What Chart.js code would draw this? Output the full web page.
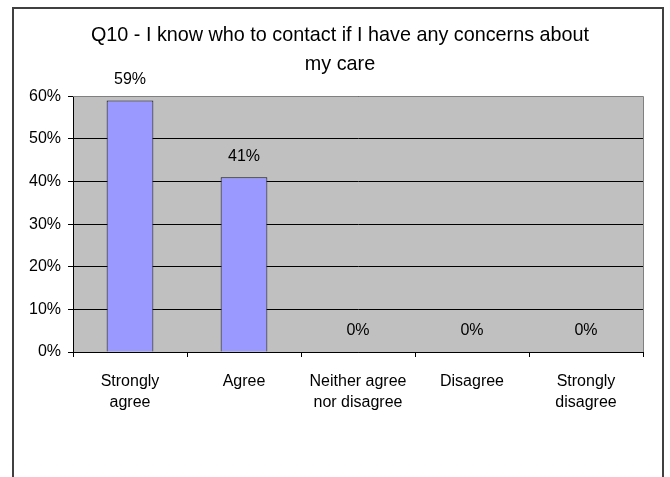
<!DOCTYPE html>
<html>
<head>
<meta charset="utf-8">
<script src="https://cdn.jsdelivr.net/npm/chart.js@4.4.1/dist/chart.umd.min.js"></script>
<style>
  html, body { margin: 0; padding: 0; background: #ffffff; }
  #wrap { width: 670px; height: 477px; position: relative; }
</style>
</head>
<body>
<div id="wrap"><canvas id="chart" width="670" height="477"></canvas></div>
<script>
// Survey responses, in percent of respondents
const categories = [
  ['Strongly', 'agree'],
  'Agree',
  ['Neither agree', 'nor disagree'],
  'Disagree',
  ['Strongly', 'disagree']
];
const responses = [59, 41, 0, 0, 0];
const titleLines = ['Q10 - I know who to contact if I have any concerns about', 'my care'];
const axisMax = 60;
const axisStep = 10;

const FONT = "'Liberation Sans', Arial, sans-serif";

// Frame around the whole chart plus plot-area shading
const framePlugin = {
  id: 'frame',
  beforeDraw(chart) {
    const { ctx, chartArea: a } = chart;
    ctx.save();
    ctx.fillStyle = '#ffffff';
    ctx.fillRect(0, 0, chart.width, chart.height);
    ctx.strokeStyle = '#404040';
    ctx.lineWidth = 2;
    ctx.beginPath();
    ctx.moveTo(13, chart.height + 5);
    ctx.lineTo(13, 8);
    ctx.lineTo(663, 8);
    ctx.lineTo(663, chart.height + 5);
    ctx.stroke();
    ctx.fillStyle = '#C0C0C0';
    ctx.fillRect(a.left, a.top, a.right - a.left, a.bottom - a.top);
    ctx.restore();
  },
  beforeDatasetsDraw(chart) {
    const { ctx, chartArea: a } = chart;
    ctx.save();
    ctx.strokeStyle = '#808080';
    ctx.lineWidth = 1;
    ctx.beginPath();
    ctx.moveTo(a.left, Math.round(a.top) + 0.5);
    ctx.lineTo(Math.round(a.right) + 0.5, Math.round(a.top) + 0.5);
    ctx.lineTo(Math.round(a.right) + 0.5, a.bottom);
    ctx.stroke();
    ctx.restore();
  }
};

// Percentage labels above each bar
const valueLabelPlugin = {
  id: 'valueLabels',
  afterDatasetsDraw(chart) {
    const { ctx } = chart;
    const meta = chart.getDatasetMeta(0);
    ctx.save();
    ctx.font = '16px ' + FONT;
    ctx.fillStyle = '#000000';
    ctx.textAlign = 'center';
    ctx.textBaseline = 'middle';
    meta.data.forEach((bar, i) => {
      ctx.fillText(responses[i] + '%', bar.x, bar.y - 21);
    });
    ctx.restore();
  }
};

new Chart(document.getElementById('chart'), {
  type: 'bar',
  data: {
    labels: categories,
    datasets: [{
      data: responses,
      backgroundColor: '#9999FF',
      borderColor: '#111111',
      borderWidth: 1,
      barPercentage: 0.41,
      categoryPercentage: 1.0
    }]
  },
  options: {
    responsive: false,
    animation: false,
    layout: { padding: { left: 10, right: 0, top: 0, bottom: 0 } },
    plugins: {
      legend: { display: false },
      tooltip: { enabled: false },
      title: {
        display: true,
        text: titleLines,
        color: '#000000',
        font: { family: FONT, size: 19.8, weight: 'normal', lineHeight: 1.47 },
        padding: { top: 21, bottom: 17 }
      }
    },
    scales: {
      x: {
        grid: { drawOnChartArea: false, drawTicks: true, tickLength: 5, color: '#000000' },
        border: { display: true, color: '#000000', width: 1 },
        ticks: {
          color: '#000000',
          font: { family: FONT, size: 16, lineHeight: 1.3 },
          padding: 14,
          maxRotation: 0,
          autoSkip: false
        },
        afterFit(scale) { scale.height = 125; }
      },
      y: {
        min: 0,
        max: axisMax,
        grid: { drawTicks: true, tickLength: 5, color: '#000000' },
        border: { display: true, color: '#000000', width: 1 },
        ticks: {
          stepSize: axisStep,
          color: '#000000',
          padding: 7,
          font: { family: FONT, size: 16 },
          callback: v => v + '%'
        },
        afterFit(scale) { scale.width = 63; }
      },
      yRight: {
        position: 'right',
        display: true,
        min: 0,
        max: axisMax,
        grid: { display: false },
        border: { display: false },
        ticks: { display: false },
        afterFit(scale) { scale.width = 27; }
      }
    }
  },
  plugins: [framePlugin, valueLabelPlugin]
});
</script>
</body>
</html>
